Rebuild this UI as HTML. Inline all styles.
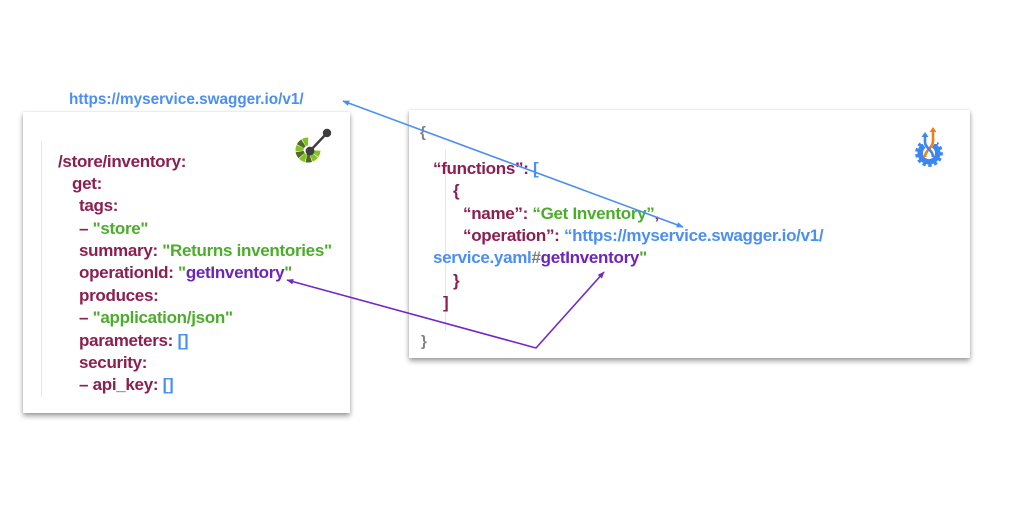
<!DOCTYPE html>
<html>
<head>
<meta charset="utf-8">
<style>
  html, body { margin:0; padding:0; background:#fff; }
  body { width:1024px; height:529px; position:relative; overflow:hidden;
         font-family:"Liberation Sans", sans-serif; }
  .card { position:absolute; background:#fff;
          box-shadow: 0 3px 5px rgba(0,0,0,0.38), 0 0 2px rgba(0,0,0,0.12); }
  .vline { position:absolute; width:1px; background:#e6e6e6; }
  .code { position:absolute; font-size:17px; font-weight:bold; letter-spacing:-0.3px;
          line-height:22.4px; color:#8a1f50; white-space:nowrap; }
  .code div { height:22.4px; white-space:pre; }
  .m { color:#8a1f50; }
  .g { color:#4cad2c; }
  .b { color:#4b8ff3; }
  .p { color:#6d24b9; }
  .gr { color:#7d7d7d; }
  .url { position:absolute; left:69px; top:91px; font-size:15.3px; font-weight:bold;
         color:#4b8ff3; white-space:pre; line-height:18px; }
  .brace { position:absolute; font-size:15px; font-weight:bold; color:#808080; line-height:18px; }
</style>
</head>
<body>

<div class="url">https://myservice.swagger.io/v1/</div>

<!-- Left card -->
<div class="card" style="left:23px; top:112px; width:327px; height:301px;"></div>
<div class="vline" style="left:41px; top:142px; height:255px;"></div>

<div class="code" style="left:0; top:150.5px;"><div style="padding-left:58px">/store/inventory:</div><div style="padding-left:72px">get:</div><div style="padding-left:79px">tags:</div><div style="padding-left:79px">– <span class="g">"store"</span></div><div style="padding-left:79px">summary: <span class="g">"Returns inventories"</span></div><div style="padding-left:79px">operationId: <span class="g">"</span><span class="p">getInventory</span><span class="g">"</span></div><div style="padding-left:79px">produces:</div><div style="padding-left:79px">– <span class="g">"application/json"</span></div><div style="padding-left:79px">parameters: <span class="b">[]</span></div><div style="padding-left:79px">security:</div><div style="padding-left:79px">– api_key: <span class="b">[]</span></div></div>

<!-- Right card -->
<div class="card" style="left:409px; top:110px; width:561px; height:248px;"></div>
<div class="vline" style="left:445px; top:150px; height:180px;"></div>

<div class="brace" style="left:420px; top:124px;">{</div>
<div class="brace" style="left:421px; top:333px;">}</div>

<div class="code" style="left:0; top:158.2px; line-height:22.3px;"><div style="padding-left:433px; height:22.3px;">“functions”: <span class="b">[</span></div><div style="padding-left:453px; height:22.3px;">{</div><div style="padding-left:463px; height:22.3px;">“name”: <span class="g">“Get Inventory”</span>,</div><div style="padding-left:463px; height:22.3px;">“operation”: <span class="b">“https://myservice.swagger.io/v1/</span></div><div style="padding-left:433px; height:22.3px;"><span class="b">service.yaml</span><span class="gr">#</span><span class="p">getInventory</span><span class="g">"</span></div><div style="padding-left:453px; height:22.3px;">}</div><div style="padding-left:443px; height:22.3px;">]</div></div>

<!-- Icons and arrows -->
<svg width="1024" height="529" style="position:absolute;left:0;top:0;" xmlns="http://www.w3.org/2000/svg">
  <defs>
    <marker id="ab" viewBox="0 0 10 10" refX="9" refY="5" markerWidth="7" markerHeight="7" orient="auto-start-reverse" markerUnits="userSpaceOnUse">
      <path d="M0,1 L10,5 L0,9 Z" fill="#4a8ff0"/>
    </marker>
    <marker id="ap" viewBox="0 0 10 10" refX="9" refY="5" markerWidth="7" markerHeight="7" orient="auto-start-reverse" markerUnits="userSpaceOnUse">
      <path d="M0,1 L10,5 L0,9 Z" fill="#7328c4"/>
    </marker>
  </defs>

  <!-- OpenAPI icon -->
  <g>
    <circle cx="308" cy="150" r="8.5" fill="none" stroke="#84c21f" stroke-width="8"
            stroke-dasharray="40 60"/>
    <circle cx="308" cy="150" r="8.5" fill="none" stroke="#4f6b24" stroke-width="8"
            stroke-dasharray="0 10 5 5 5 5 5 100"/>
    <circle cx="308" cy="150" r="8.5" fill="none" stroke="#ffffff" stroke-width="9"
            stroke-dasharray="0.5 4.5"/>
    <line x1="310" y1="151" x2="327" y2="133" stroke="#3d3d3d" stroke-width="2.4"/>
    <circle cx="327" cy="133" r="4.2" fill="#3d3d3d"/>
    <circle cx="310" cy="151" r="4.4" fill="#3d3d3d"/>
  </g>

  <!-- Serverless workflow icon -->
  <g>
    <circle cx="929" cy="153" r="12.3" fill="none" stroke="#3b86f0" stroke-width="3.2"
            stroke-dasharray="3.2 2.6" transform="rotate(-58 929 153)" />
    <circle cx="929" cy="153" r="8.8" fill="none" stroke="#3b86f0" stroke-width="5.5"
            stroke-dasharray="45 10.3" transform="rotate(-60 929 153)"/>
    <rect x="921" y="136" width="16" height="8" fill="#fff"/>
    <path d="M925,157 C925,150 933,148 933,141 L933,131" fill="none" stroke="#f07d1a" stroke-width="2.6"/>
    <path d="M929.5,132 L933,127 L936.5,132 Z" fill="#f07d1a"/>
    <path d="M933,157 C933,150 925,148 925,142 L925,136" fill="none" stroke="#3b86f0" stroke-width="2.6"/>
    <path d="M921.5,137 L925,132 L928.5,137 Z" fill="#3b86f0"/>
  </g>

  <!-- Blue double arrow -->
  <line x1="343" y1="101" x2="683" y2="227" stroke="#4a8ff0" stroke-width="1.6"
        marker-start="url(#ab)" marker-end="url(#ab)"/>

  <!-- Purple double arrow -->
  <polyline points="287,280 536,348 604,272" fill="none" stroke="#7328c4" stroke-width="1.6"
            marker-start="url(#ap)" marker-end="url(#ap)"/>
</svg>

</body>
</html>
